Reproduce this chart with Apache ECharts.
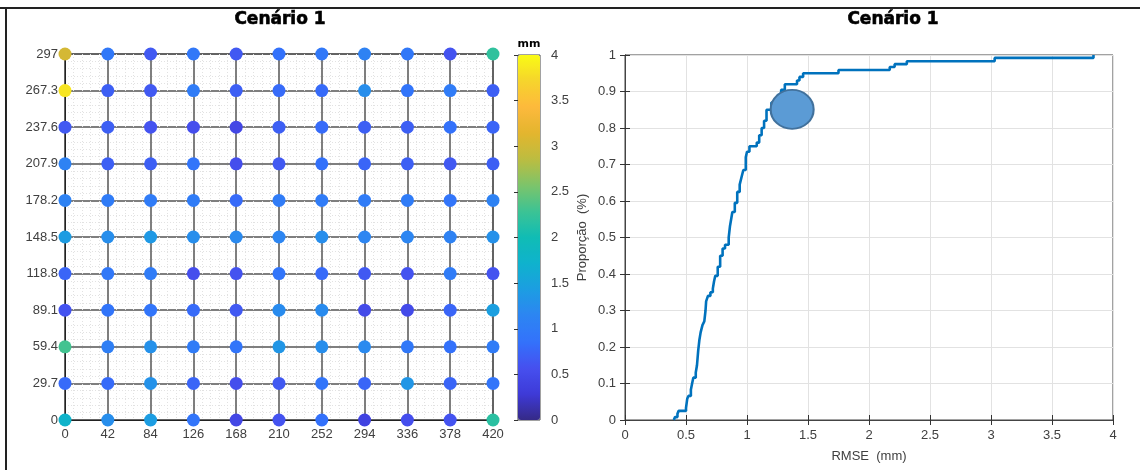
<!DOCTYPE html>
<html><head><meta charset="utf-8">
<script src="https://cdn.jsdelivr.net/npm/echarts@6/dist/echarts.min.js"></script>
<style>html,body{margin:0;padding:0;background:#fff}#c{width:1140px;height:470px}</style>
</head><body><div id="c"></div>
<script>
// ---- data ----
const gridX = [0, 42, 84, 126, 168, 210, 252, 294, 336, 378, 420];
const gridY = [297, 267.3, 237.6, 207.9, 178.2, 148.5, 118.8, 89.1, 59.4, 29.7, 0]; // top to bottom
const rmseRows = [
  [3.03, 0.95, 0.65, 0.95, 0.65, 0.85, 0.95, 1.10, 0.95, 0.60, 2.21],
  [3.84, 0.70, 0.65, 1.00, 0.70, 0.80, 0.80, 1.25, 0.90, 1.00, 0.70],
  [0.65, 0.70, 0.60, 0.55, 0.45, 0.70, 0.80, 0.70, 0.70, 0.85, 0.75],
  [1.10, 0.70, 0.70, 0.90, 0.55, 0.65, 0.85, 0.75, 0.70, 0.65, 0.70],
  [1.10, 1.00, 1.00, 1.00, 0.80, 1.00, 1.00, 1.00, 1.00, 0.90, 1.10],
  [1.42, 1.25, 1.38, 1.25, 1.20, 1.15, 1.25, 1.15, 1.15, 1.10, 1.28],
  [0.75, 0.95, 1.00, 0.55, 0.60, 0.90, 0.80, 0.65, 0.60, 1.00, 0.60],
  [0.60, 0.90, 0.90, 0.80, 0.65, 1.22, 1.22, 0.50, 0.50, 0.75, 1.46],
  [2.31, 1.05, 1.28, 1.00, 0.90, 1.35, 1.25, 1.20, 0.95, 0.85, 1.00],
  [0.80, 0.80, 1.30, 0.75, 0.55, 0.65, 0.90, 0.75, 1.35, 0.75, 0.90],
  [1.75, 1.25, 1.43, 0.90, 0.45, 0.60, 0.85, 0.40, 0.55, 0.60, 2.17]
];
const colorbarTicks = [0, 0.5, 1, 1.5, 2, 2.5, 3, 3.5, 4];
// ECDF step vertices: [RMSE (mm), proportion]
const ecdfX = [0.40,0.41,0.43,0.44,0.50,0.51,0.52,0.54,0.55,0.56,0.58,0.59,0.60,0.61,0.62,0.635,0.65,0.66,0.665,0.68,0.70,0.72,0.73,0.74,0.76,0.78,0.80,0.82,0.85,0.86,0.87,0.88,0.90,0.92,0.94,0.955,0.97,0.99,1.00,1.02,1.08,1.10,1.12,1.14,1.16,1.20,1.25,1.28,1.31,1.41,1.43,1.46,1.75,2.17,2.21,2.31,3.03,3.84];
const ecdfY = [0.0,0.008,0.017,0.025,0.033,0.058,0.066,0.083,0.10,0.116,0.13,0.15,0.19,0.22,0.24,0.26,0.27,0.30,0.325,0.34,0.35,0.36,0.38,0.395,0.42,0.45,0.47,0.48,0.50,0.53,0.55,0.57,0.595,0.625,0.645,0.665,0.685,0.72,0.735,0.75,0.76,0.78,0.80,0.82,0.85,0.87,0.89,0.905,0.92,0.93,0.94,0.95,0.959,0.967,0.975,0.983,0.992,1.0];
const highlight = [1.37, 0.851];

// ---- build ----
const pts = [];
gridY.forEach((y, r) => gridX.forEach((x, c) => pts.push([x, y, rmseRows[r][c]])));
const ecdf = ecdfX.map((x, i) => [x, ecdfY[i]]);
const fmt1 = v => String(+(+v).toFixed(2));
const lab = {color: '#404040', fontSize: 13, fontFamily: 'Liberation Sans, Arial, sans-serif'};
const tickIn = {show: true, inside: true, length: 5, lineStyle: {color: '#333'}};
const minorOff = {show: false, splitNumber: 5};

const chart = echarts.init(document.getElementById('c'), null, {renderer: 'canvas'});
chart.setOption({
  animation: false,
  backgroundColor: '#fff',
  graphic: [
    {type: 'line', shape: {x1: 0, y1: 8, x2: 1140, y2: 8}, style: {stroke: '#222', lineWidth: 2}},
    {type: 'line', shape: {x1: 6, y1: 8, x2: 6, y2: 470}, style: {stroke: '#222', lineWidth: 2}},
    {type: 'text', x: 280, y: 11, style: {text: 'Cenário 1', textAlign: 'center', font: 'bold 17px "DejaVu Sans"', fill: '#000', stroke: '#000', lineWidth: 0.6}},
    {type: 'text', x: 893, y: 11, style: {text: 'Cenário 1', textAlign: 'center', font: 'bold 17px "DejaVu Sans"', fill: '#000', stroke: '#000', lineWidth: 0.6}},
    {type: 'text', x: 529, y: 39, style: {text: 'mm', textAlign: 'center', font: 'bold 11px "DejaVu Sans"', fill: '#000'}}
  ],
  grid: [
    {left: 65, top: 54, width: 428, height: 366, show: true, borderColor: '#222', borderWidth: 1, backgroundColor: 'transparent'},
    {left: 625, top: 55, width: 488, height: 365, show: true, borderColor: '#444', borderWidth: 1, backgroundColor: 'transparent'},
    {left: 518, top: 55, width: 22, height: 365, show: true, borderColor: '#444', borderWidth: 1, backgroundColor: 'transparent'}
  ],
  visualMap: {
    type: 'continuous', min: 0, max: 4, seriesIndex: 0, dimension: 2,
    left: 518, top: 55, itemWidth: 22, itemHeight: 365, padding: 0,
    calculable: false, hoverLink: false, text: null, showLabel: false,
    inRange: {color: ['#352a87', '#3e3ad8', '#4650ef', '#3372fb', '#2d85f2', '#1c9de2', '#0fb2cd', '#10bcb5', '#3cc394', '#7dc46a', '#bcbd40', '#e3b52e', '#fdb93c', '#f6d42c', '#f9fb15']}
  },
  xAxis: [
    {gridIndex: 0, type: 'value', min: 0, max: 420, interval: 42, position: 'bottom',
     axisLine: {show: true, onZero: false, lineStyle: {color: '#222'}}, axisTick: tickIn, minorTick: minorOff,
     axisLabel: Object.assign({margin: 8}, lab),
     splitLine: {show: true, lineStyle: {color: '#555', width: 1.5}},
     minorSplitLine: {show: true, lineStyle: {color: '#e2e2e2', type: [1, 2], width: 1}}},
    {gridIndex: 0, type: 'value', min: 0, max: 420, interval: 42, position: 'top',
     axisLine: {show: true, lineStyle: {color: '#222'}}, axisTick: tickIn,
     axisLabel: {show: false}, splitLine: {show: false}},
    {gridIndex: 1, type: 'value', min: 0, max: 4, interval: 0.5, position: 'bottom',
     axisLine: {show: true, onZero: false, lineStyle: {color: '#444'}}, axisTick: tickIn,
     axisLabel: Object.assign({margin: 9, formatter: fmt1}, lab),
     splitLine: {show: true, lineStyle: {color: '#e2e2e2', width: 1}},
     name: 'RMSE  (mm)', nameLocation: 'middle', nameGap: 30,
     nameTextStyle: {color: '#404040', fontSize: 13, fontFamily: 'Liberation Sans, Arial, sans-serif'}},
    {gridIndex: 1, type: 'value', min: 0, max: 4, interval: 0.5, position: 'top',
     axisLine: {show: true, lineStyle: {color: '#444'}}, axisTick: tickIn, axisLabel: {show: false}, splitLine: {show: false}},
    {gridIndex: 2, type: 'value', min: 0, max: 1, show: false}
  ],
  yAxis: [
    {gridIndex: 0, type: 'value', min: 0, max: 297, interval: 29.7, position: 'left',
     axisLine: {show: true, onZero: false, lineStyle: {color: '#222'}}, axisTick: tickIn, minorTick: minorOff,
     axisLabel: Object.assign({margin: 7, formatter: fmt1}, lab),
     splitLine: {show: true, lineStyle: {color: '#555', width: 1.5}},
     minorSplitLine: {show: true, lineStyle: {color: '#e2e2e2', type: [1, 2], width: 1}}},
    {gridIndex: 0, type: 'value', min: 0, max: 297, interval: 29.7, position: 'right',
     axisLine: {show: true, lineStyle: {color: '#222'}}, axisTick: tickIn,
     axisLabel: {show: false}, splitLine: {show: false}},
    {gridIndex: 1, type: 'value', min: 0, max: 1, interval: 0.1, position: 'left',
     axisLine: {show: true, onZero: false, lineStyle: {color: '#444'}}, axisTick: tickIn,
     axisLabel: Object.assign({margin: 9, formatter: fmt1}, lab),
     splitLine: {show: true, lineStyle: {color: '#e2e2e2', width: 1}},
     name: 'Proporção  (%)', nameLocation: 'middle', nameGap: 36, nameRotate: 90,
     nameTextStyle: {color: '#404040', fontSize: 13, fontFamily: 'Liberation Sans, Arial, sans-serif'}},
    {gridIndex: 1, type: 'value', min: 0, max: 1, interval: 0.1, position: 'right',
     axisLine: {show: true, lineStyle: {color: '#444'}}, axisTick: tickIn, axisLabel: {show: false}, splitLine: {show: false}},
    {gridIndex: 2, type: 'value', min: 0, max: 4, interval: 0.5, position: 'right',
     axisLine: {show: false}, axisTick: {show: true, inside: true, length: 4, lineStyle: {color: '#333'}},
     axisLabel: Object.assign({margin: 11, formatter: fmt1}, lab), splitLine: {show: false}}
  ],
  series: [
    {type: 'scatter', xAxisIndex: 0, yAxisIndex: 0, data: pts, symbolSize: 13, z: 5, itemStyle: {opacity: 1}},
    {type: 'line', xAxisIndex: 2, yAxisIndex: 2, data: ecdf, step: 'end', showSymbol: false,
     lineStyle: {color: '#0072BD', width: 2.6}, z: 4},
    {type: 'scatter', xAxisIndex: 2, yAxisIndex: 2, data: [highlight], symbolSize: [43, 39],
     itemStyle: {color: '#5B9BD5', borderColor: '#41719C', borderWidth: 2, opacity: 1}, z: 6},
    {type: 'scatter', xAxisIndex: 4, yAxisIndex: 4, data: []}
  ]
});
</script></body></html>
